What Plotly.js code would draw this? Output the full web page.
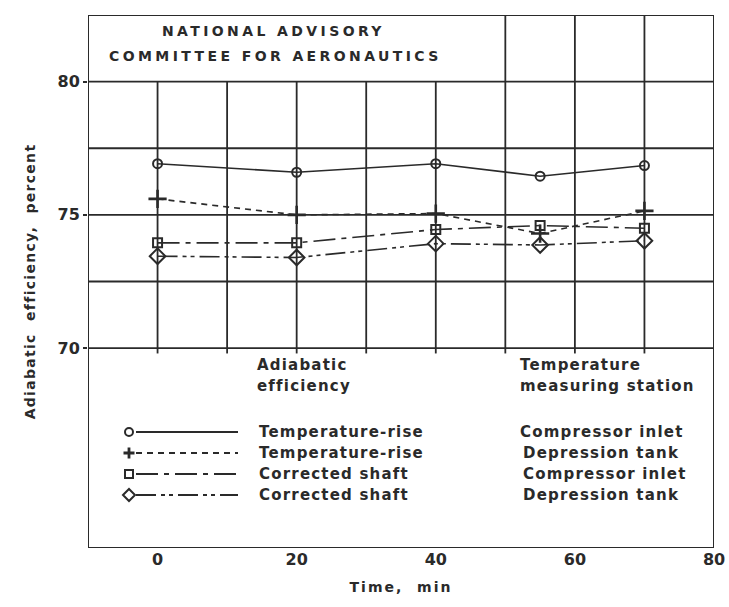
<!DOCTYPE html>
<html>
<head>
<meta charset="utf-8">
<script src="https://cdn.plot.ly/plotly-3.0.1.min.js"></script>
<style>
  html, body { margin: 0; padding: 0; background: #fff; }
  #chart { width: 729px; height: 607px; }
  .ls0 text { letter-spacing: 3.4px; }
  .ls1 text { letter-spacing: 1.2px; }
  .g-xtitle text { letter-spacing: 2px; }
  .g-ytitle text { letter-spacing: 1.3px; }
</style>
</head>
<body>
<div id="chart"></div>
<script>
// ---- data ----
const timeMin = [0, 20, 40, 55, 70];
const tempRiseInlet = [76.92, 76.6, 76.92, 76.45, 76.85];
const tempRiseTank = [75.6, 75.0, 75.05, 74.3, 75.15];
const shaftInlet = [73.95, 73.95, 74.45, 74.6, 74.5];
const shaftTank = [73.45, 73.4, 73.92, 73.87, 74.03];

const xTickVals = [0, 20, 40, 60, 80];
const yTickVals = [70, 75, 80];

const seriesNames = ["Temperature-rise", "Temperature-rise", "Corrected shaft", "Corrected shaft"];
const stationNames = ["Compressor inlet", "Depression tank", "Compressor inlet", "Depression tank"];
const headerLeft = ["Adiabatic", "efficiency"];
const headerRight = ["Temperature", "measuring station"];
const nacaLines = ["NATIONAL ADVISORY", "COMMITTEE FOR AERONAUTICS"];

// ---- styling ----
const ink = "#2a2a2a";
const FONT = "DejaVu Sans, sans-serif";
const M = { l: 88, r: 15, t: 15, b: 59 };
const W = 729, H = 607;
const PW = W - M.l - M.r, PH = H - M.t - M.b;
const X = px => (px - M.l) / PW;
const Y = py => (H - M.b - py) / PH;

const dashes = ["solid", "6px,5px", "22px,6px,5px,6px", "20px,5px,4px,4px,4px,5px"];
const symbols = ["circle-open", "cross-thin-open", "square-open", "diamond-open"];
const sizes = [9, 13, 9, 12];
const ys = [tempRiseInlet, tempRiseTank, shaftInlet, shaftTank];

const traces = ys.map((y, i) => ({
  x: timeMin, y: y, type: "scatter", mode: "lines+markers",
  name: seriesNames[i] + " / " + stationNames[i],
  line: { color: ink, width: 1.6, dash: dashes[i] },
  marker: { symbol: symbols[i], size: sizes[i], color: ink, line: { color: ink, width: i === 1 ? 2.6 : 2 } },
  showlegend: false, cliponaxis: false
}));

// ---- frame & grid ----
const shapes = [];
const gl = { color: ink, width: 1.8 };
shapes.push({ type: "rect", xref: "x", yref: "y", x0: -10, x1: 80, y0: 62.5, y1: 82.5, line: { color: ink, width: 2 }, layer: "below" });
for (let g = 70; g <= 80; g += 2.5) {
  shapes.push({ type: "line", xref: "x", yref: "y", x0: -10, x1: 80, y0: g, y1: g, line: gl, layer: "below" });
}
for (let v = 0; v <= 70; v += 10) {
  shapes.push({ type: "line", xref: "x", yref: "y", x0: v, x1: v, y0: 70, y1: v >= 50 ? 82.5 : 80, line: gl, layer: "below" });
  shapes.push({ type: "line", xref: "x", yref: "y", x0: v, x1: v, y0: 70, y1: 69.8, line: gl, layer: "below" });
}

// ---- legend samples (drawn in pixel-mapped paper coords) ----
const rowsPy = [432, 453, 474, 495];
rowsPy.forEach((py, i) => {
  const cx = 129, r = 4;
  shapes.push({ type: "line", xref: "paper", yref: "paper", x0: X(cx + 7), x1: X(238), y0: Y(py), y1: Y(py),
    line: { color: ink, width: 1.8, dash: dashes[i] } });
  const sl = { color: ink, width: 2 };
  if (i === 0) {
    shapes.push({ type: "circle", xref: "paper", yref: "paper", x0: X(cx - r), x1: X(cx + r), y0: Y(py + r), y1: Y(py - r), line: sl });
  } else if (i === 1) {
    const s = 5.5;
    shapes.push({ type: "path", xref: "paper", yref: "paper",
      path: `M${X(cx - s)},${Y(py)} L${X(cx + s)},${Y(py)} M${X(cx)},${Y(py - s)} L${X(cx)},${Y(py + s)}`, line: { color: ink, width: 2.8 } });
  } else if (i === 2) {
    shapes.push({ type: "rect", xref: "paper", yref: "paper", x0: X(cx - r), x1: X(cx + r), y0: Y(py + r), y1: Y(py - r), line: sl });
  } else {
    const s = 6;
    shapes.push({ type: "path", xref: "paper", yref: "paper",
      path: `M${X(cx - s)},${Y(py)} L${X(cx)},${Y(py - s)} L${X(cx + s)},${Y(py)} L${X(cx)},${Y(py + s)} Z`, line: sl });
  }
});

// ---- text ----
const annotations = [];
function txt(t, px, py, size, cls) {
  annotations.push({ text: t, xref: "paper", yref: "paper", x: X(px), y: Y(py), xanchor: "left", yanchor: "middle",
    align: "left", showarrow: false, font: { family: FONT, size: size, color: ink, weight: "bold" }, _cls: cls });
}
txt(nacaLines[0], 160, 31, 14, "ls0");
txt(nacaLines[1], 107, 56, 14, "ls0");
txt(headerLeft[0], 255, 365, 15, "ls1");
txt(headerLeft[1], 255, 386, 15, "ls1");
txt(headerRight[0], 518, 365, 15, "ls1");
txt(headerRight[1], 518, 386, 15, "ls1");
rowsPy.forEach((py, i) => {
  txt(seriesNames[i], 257, py, 15, "ls1");
  txt(stationNames[i], i === 0 ? 518 : 521, py, 15, "ls1");
});
const classes = annotations.map(a => a._cls);
annotations.forEach(a => delete a._cls);

const layout = {
  width: W, height: H, margin: M,
  paper_bgcolor: "#fff", plot_bgcolor: "#fff",
  showlegend: false,
  xaxis: {
    range: [-10, 80], tickvals: xTickVals, ticktext: xTickVals.map(String),
    showgrid: false, zeroline: false, showline: false, ticks: "",
    tickfont: { family: FONT, size: 16, color: ink, weight: "bold" },
    title: { text: "Time,  min", font: { family: FONT, size: 14, color: ink, weight: "bold" }, standoff: 14 }
  },
  yaxis: {
    range: [62.5, 82.5], tickvals: yTickVals, ticktext: yTickVals.map(String),
    showgrid: false, zeroline: false, showline: false, ticks: "outside", ticklen: 4, tickcolor: ink, tickwidth: 2,
    tickfont: { family: FONT, size: 16, color: ink, weight: "bold" },
    title: { text: "Adiabatic  efficiency,  percent", font: { family: FONT, size: 14, color: ink, weight: "bold" }, standoff: 18 }
  },
  shapes: shapes,
  annotations: annotations
};

Plotly.newPlot("chart", traces, layout, { displayModeBar: false, staticPlot: true }).then(() => {
  document.querySelectorAll("#chart .annotation").forEach(g => {
    const idx = +g.getAttribute("data-index");
    if (classes[idx]) g.classList.add(classes[idx]);
  });
});
</script>
</body>
</html>
